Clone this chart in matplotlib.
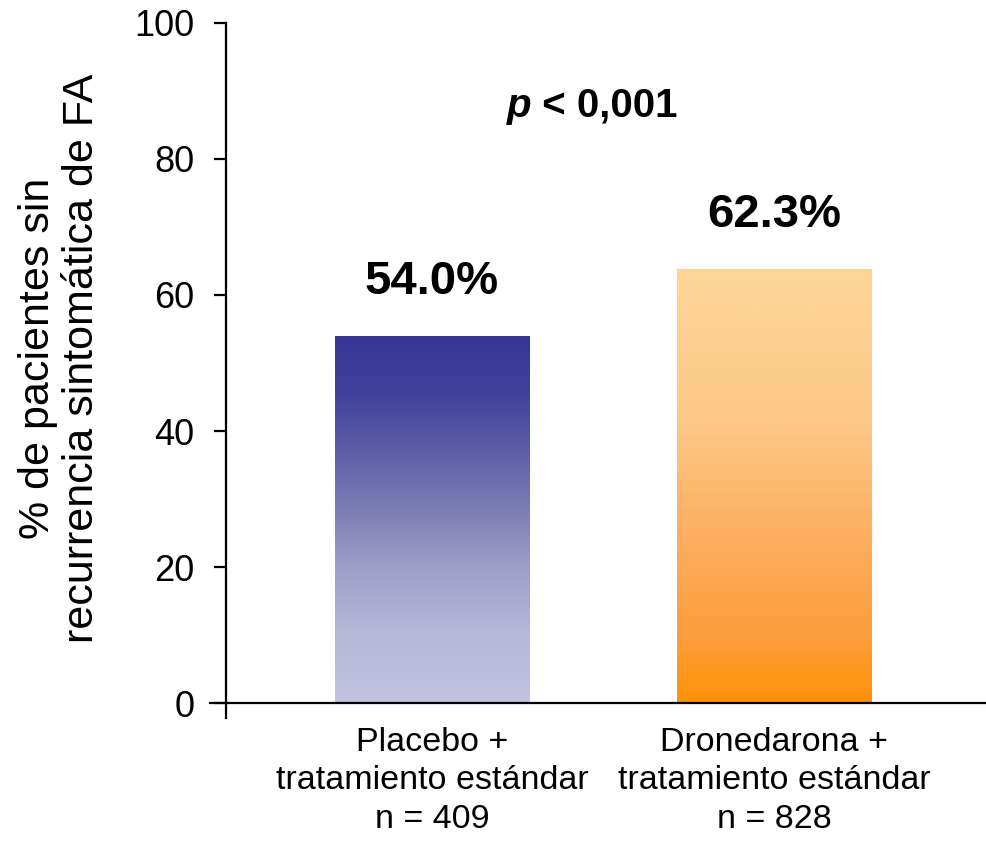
import numpy as np
import matplotlib
matplotlib.use("Agg")
import matplotlib.pyplot as plt
from matplotlib.colors import LinearSegmentedColormap

plt.rcParams['font.family'] = ['Liberation Sans', 'DejaVu Sans']

# Data
groups = ["Placebo +\ntratamiento estándar\nn = 409",
          "Dronedarona +\ntratamiento estándar\nn = 828"]
bar_heights = [54.0, 63.8]   # heights as drawn (2nd bar drawn a bit above its label)
value_labels = ["54.0%", "62.3%"]
yticks = [0, 20, 40, 60, 80, 100]
ylabel = "% de pacientes sin\nrecurrencia sintomática de FA"

# gradient stops, top -> bottom
grad_placebo = [(0.0, "#363795"), (0.15, "#3f419a"), (0.3, "#5a5ba6"), (0.45, "#7878b3"),
                (0.62, "#9c9cc7"), (0.8, "#b6b6d8"), (1.0, "#c2c2e2")]
grad_drone = [(0.0, "#fdd698"), (0.35, "#fdc887"), (0.6, "#fcb062"),
              (0.85, "#fd9d3c"), (1.0, "#ff9205")]

fig = plt.figure(figsize=(9.87, 8.44), dpi=100)
ax = fig.add_axes([0.2128, 0.1493, 0.785, 0.8235])

x = np.arange(len(groups))
bars = ax.bar(x, bar_heights, width=0.567, color='none', edgecolor='none', zorder=2)

# fill each bar with a vertical gradient
for rect, stops in zip(bars, [grad_placebo, grad_drone]):
    cmap = LinearSegmentedColormap.from_list("g", stops)
    x0, w, h = rect.get_x(), rect.get_width(), rect.get_height()
    grad = np.linspace(0, 1, 256).reshape(-1, 1)
    im = ax.imshow(grad, cmap=cmap, aspect='auto', extent=[x0, x0 + w, 0, h],
                   origin='upper', zorder=2, interpolation='bicubic')
    im.set_clip_path(rect)

# value labels
for i, (h, lab) in enumerate(zip(bar_heights, value_labels)):
    ax.annotate(lab, (x[i], h), xytext=(0, 30), textcoords='offset points',
                ha='center', va='baseline', fontsize=34, fontweight='bold')

# p-value
pt = ax.text(0.219, 85.0, "p", fontsize=29, fontweight='bold', fontstyle='italic',
             ha='left', va='bottom')
ax.annotate(" < 0,001", xy=(1, 0), xycoords=pt, fontsize=29, fontweight='bold',
            ha='left', va='bottom')

ax.set_xlim(-0.648, 1.615)
ax.set_ylim(-2.2, 100)
ax.spines['top'].set_visible(False)
ax.spines['right'].set_visible(False)
ax.spines['left'].set_position(('data', -0.601))
ax.spines['bottom'].set_position(('data', 0))
for s in ['left', 'bottom']:
    ax.spines[s].set_linewidth(1.6)

ax.set_yticks(yticks)
ax.tick_params(axis='y', direction='out', length=9, width=1.6, labelsize=26, pad=14)
ax.set_xticks(x)
ax.set_xticklabels(groups, fontsize=24.5, linespacing=1.32)
ax.tick_params(axis='x', length=0, pad=17)

fig.text(60 / 987, 1 - 358 / 844, ylabel, rotation=90, ha='center', va='center',
         fontsize=31, linespacing=1.1, multialignment='center')

fig.savefig("out.png", dpi=100)
